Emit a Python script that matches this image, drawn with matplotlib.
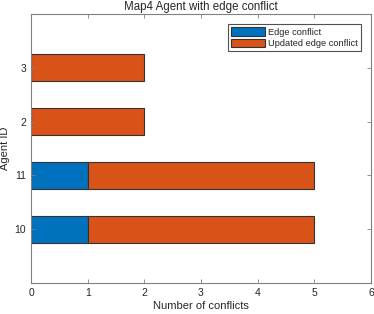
import matplotlib
matplotlib.use("Agg")
import matplotlib.pyplot as plt
import numpy as np

agents = ["10", "11", "2", "3"]
edge_conflict = [1, 1, 0, 0]
updated_edge_conflict = [4, 4, 2, 2]

plt.rcParams['font.family'] = ['Liberation Sans', 'DejaVu Sans']
fig = plt.figure(figsize=(3.74, 3.14), dpi=100)
ax = fig.add_axes([0.083, 0.0987, 0.909, 0.857])

pos = np.arange(1, len(agents) + 1)
blue = '#0072BD'
orange = '#D95319'
ec = '#333333'
ax.barh(pos, edge_conflict, height=0.5, color=blue, edgecolor=ec, linewidth=0.8, label='Edge conflict')
ax.barh(pos, updated_edge_conflict, left=edge_conflict, height=0.5, color=orange, edgecolor=ec,
        linewidth=0.8, label='Updated edge conflict')

ax.set_xlim(0, 6)
ax.set_ylim(0, 5)
ax.set_yticks(pos)
ax.set_yticklabels(agents)
ax.set_xticks(range(0, 7))
axc = '#262626'
for s in ax.spines.values():
    s.set_color('#808080')
    s.set_linewidth(0.8)
ax.tick_params(direction='in', top=True, right=True, length=3, width=0.6, colors='#808080',
               labelcolor=axc, labelsize=7.5)
ax.set_xlabel('Number of conflicts', fontsize=8, color=axc, labelpad=2)
ax.set_ylabel('Agent ID', fontsize=8, color=axc, labelpad=3)
ax.set_title('Map4 Agent with edge conflict', fontsize=8.3, color=axc, pad=3)

leg = ax.legend(loc='upper right', fontsize=6.7, frameon=True, fancybox=False, borderpad=0.35,
                handlelength=3.6, handleheight=1.0, handletextpad=0.3, labelspacing=0.2,
                borderaxespad=1.1)
leg.get_frame().set_edgecolor('#262626')
leg.get_frame().set_linewidth(0.8)
for t in leg.get_texts():
    t.set_color(axc)

fig.savefig('out.png', dpi=100)
